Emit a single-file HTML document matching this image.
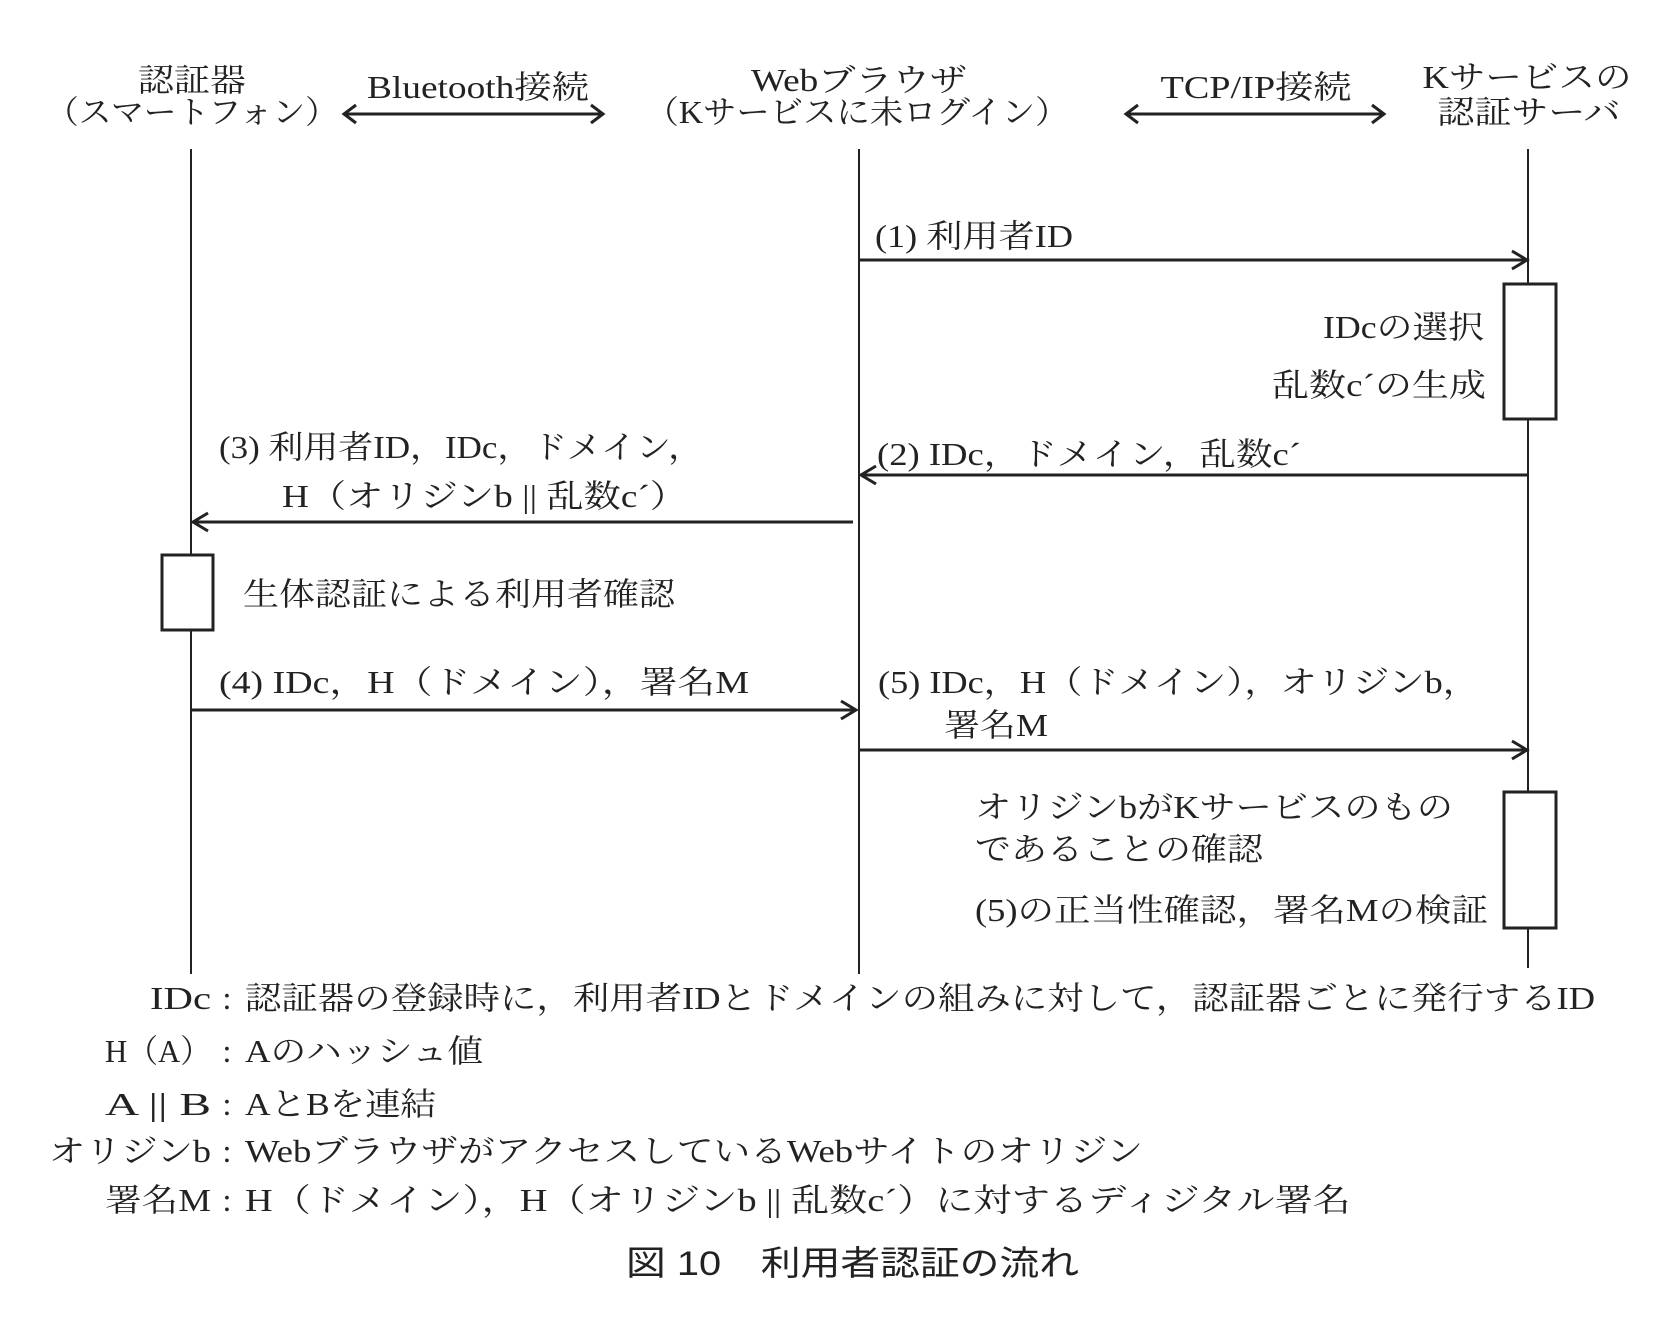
<!DOCTYPE html>
<html><head><meta charset="utf-8"><style>
html,body{margin:0;padding:0;background:#fff;}
svg text{font-family:"Liberation Serif","Noto Serif CJK JP","Noto Serif CJK SC",serif;fill:#222;dominant-baseline:central;}
</style></head><body>
<svg width="1662" height="1312" viewBox="0 0 1662 1312" xmlns="http://www.w3.org/2000/svg">
<g font-size="32" lengthAdjust="spacingAndGlyphs">
<!-- headers -->
<text x="192" y="80" text-anchor="middle" textLength="108" lengthAdjust="spacingAndGlyphs">認証器</text>
<text x="192" y="112" text-anchor="middle" textLength="292" lengthAdjust="spacingAndGlyphs">（スマートフォン）</text>
<text x="478" y="87" text-anchor="middle" textLength="222" lengthAdjust="spacingAndGlyphs">Bluetooth接続</text>
<text x="859" y="80" text-anchor="middle" textLength="216" lengthAdjust="spacingAndGlyphs">Webブラウザ</text>
<text x="857" y="112" text-anchor="middle" textLength="423" lengthAdjust="spacingAndGlyphs">（Kサービスに未ログイン）</text>
<text x="1256" y="87" text-anchor="middle" textLength="191" lengthAdjust="spacingAndGlyphs">TCP/IP接続</text>
<text x="1527" y="77" text-anchor="middle" textLength="209" lengthAdjust="spacingAndGlyphs">Kサービスの</text>
<text x="1529" y="112" text-anchor="middle" textLength="183" lengthAdjust="spacingAndGlyphs">認証サーバ</text>
<!-- messages -->
<text x="875" y="236" textLength="198" lengthAdjust="spacingAndGlyphs">(1) 利用者ID</text>
<text x="1484" y="327" text-anchor="end" textLength="161" lengthAdjust="spacingAndGlyphs">IDcの選択</text>
<text x="1486" y="385" text-anchor="end" textLength="214" lengthAdjust="spacingAndGlyphs">乱数c´の生成</text>
<text x="877" y="454" textLength="424" lengthAdjust="spacingAndGlyphs">(2) IDc，ドメイン，乱数c´</text>
<text x="219" y="447" textLength="484" lengthAdjust="spacingAndGlyphs">(3) 利用者ID，IDc，ドメイン，</text>
<text x="282" y="496" textLength="405" lengthAdjust="spacingAndGlyphs">H（オリジンb || 乱数c´）</text>
<text x="243" y="594" textLength="432" lengthAdjust="spacingAndGlyphs">生体認証による利用者確認</text>
<text x="219" y="682" textLength="530" lengthAdjust="spacingAndGlyphs">(4) IDc，H（ドメイン），署名M</text>
<text x="878" y="682" textLength="601" lengthAdjust="spacingAndGlyphs">(5) IDc，H（ドメイン），オリジンb，</text>
<text x="944" y="725" textLength="104" lengthAdjust="spacingAndGlyphs">署名M</text>
<text x="975" y="807" textLength="478" lengthAdjust="spacingAndGlyphs">オリジンbがKサービスのもの</text>
<text x="975" y="849" textLength="288" lengthAdjust="spacingAndGlyphs">であることの確認</text>
<text x="975" y="910" textLength="513" lengthAdjust="spacingAndGlyphs">(5)の正当性確認，署名Mの検証</text>
<!-- legend -->
<text x="211" y="998" text-anchor="end" textLength="61" lengthAdjust="spacingAndGlyphs">IDc</text>
<text x="211" y="1051" text-anchor="end" textLength="106" lengthAdjust="spacingAndGlyphs">H（A）</text>
<text x="211" y="1104" text-anchor="end" textLength="106" lengthAdjust="spacingAndGlyphs">A || B</text>
<text x="211" y="1151" text-anchor="end" textLength="162" lengthAdjust="spacingAndGlyphs">オリジンb</text>
<text x="211" y="1200" text-anchor="end" textLength="106" lengthAdjust="spacingAndGlyphs">署名M</text>
<text x="227" y="998" text-anchor="middle">:</text>
<text x="227" y="1051" text-anchor="middle">:</text>
<text x="227" y="1104" text-anchor="middle">:</text>
<text x="227" y="1151" text-anchor="middle">:</text>
<text x="227" y="1200" text-anchor="middle">:</text>
<text x="245" y="998" textLength="1350" lengthAdjust="spacingAndGlyphs">認証器の登録時に，利用者IDとドメインの組みに対して，認証器ごとに発行するID</text>
<text x="245" y="1051" textLength="238" lengthAdjust="spacingAndGlyphs">Aのハッシュ値</text>
<text x="245" y="1104" textLength="191" lengthAdjust="spacingAndGlyphs">AとBを連結</text>
<text x="245" y="1151" textLength="898" lengthAdjust="spacingAndGlyphs">WebブラウザがアクセスしているWebサイトのオリジン</text>
<text x="245" y="1200" textLength="1106" lengthAdjust="spacingAndGlyphs">H（ドメイン），H（オリジンb || 乱数c´）に対するディジタル署名</text>
<text x="626" y="1264" font-size="34" textLength="453" lengthAdjust="spacingAndGlyphs" style="font-family:'Liberation Sans','Noto Sans CJK JP',sans-serif">図 10　利用者認証の流れ</text>
</g>
<g stroke="#222" fill="none">
<!-- lifelines -->
<line x1="191" y1="149" x2="191" y2="974" stroke-width="2"/>
<line x1="859" y1="149" x2="859" y2="974" stroke-width="2"/>
<line x1="1528" y1="149" x2="1528" y2="968" stroke-width="2"/>
<!-- header double arrows -->
<g stroke-width="3">
<line x1="344" y1="114" x2="603" y2="114"/>
<polyline points="356,105 344,114 356,123"/>
<polyline points="591,105 603,114 591,123"/>
<line x1="1126" y1="114" x2="1384" y2="114"/>
<polyline points="1138,105 1126,114 1138,123"/>
<polyline points="1372,105 1384,114 1372,123"/>
<!-- messages -->
<line x1="859" y1="260" x2="1527" y2="260"/>
<polyline points="1512,251 1527,260 1512,269"/>
<line x1="1528" y1="475" x2="861" y2="475"/>
<polyline points="876,466 861,475 876,484"/>
<line x1="853" y1="522" x2="193" y2="522"/>
<polyline points="208,513 193,522 208,531"/>
<line x1="191" y1="710" x2="856" y2="710"/>
<polyline points="841,701 856,710 841,719"/>
<line x1="859" y1="750" x2="1527" y2="750"/>
<polyline points="1512,741 1527,750 1512,759"/>
</g>
<!-- activation boxes -->
<rect x="1504" y="284" width="52" height="135" fill="#fff" stroke-width="3"/>
<rect x="162" y="555" width="51" height="75" fill="#fff" stroke-width="3"/>
<rect x="1504" y="792" width="52" height="136" fill="#fff" stroke-width="3"/>
</g>
</svg>
</body></html>
